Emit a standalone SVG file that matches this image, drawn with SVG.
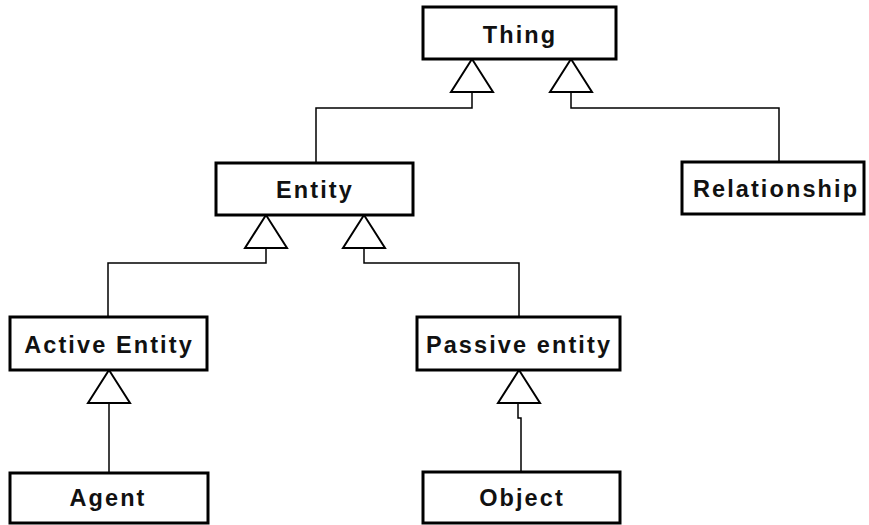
<svg xmlns="http://www.w3.org/2000/svg" xmlns:xlink="http://www.w3.org/1999/xlink" width="869" height="525" viewBox="0 0 869 525">
  <style>
    .box { fill: #ffffff; stroke: #000000; stroke-width: 3; }
    .lbl { font-family: "Liberation Sans", Arial, sans-serif; font-weight: bold; font-size: 23.5px; letter-spacing: 2.1px; text-anchor: middle; fill: #111111; }
    .conn { fill: none; stroke: #000000; stroke-width: 1.5; }
    .tri { fill: #ffffff; stroke: #000000; stroke-width: 2; stroke-linejoin: miter; }
  </style>
  <defs>
    <polygon id="tri" class="tri" points="0,0 -21,33 21,33"/>
  </defs>
  <rect width="869" height="525" fill="#ffffff"/>

  <g id="connectors">
    <path class="conn" d="M316,163 V108 H472 V92"/>
    <path class="conn" d="M779,162 V108 H571 V92"/>
    <path class="conn" d="M108,317 V263 H266 V248"/>
    <path class="conn" d="M519,317 V263 H364 V248"/>
    <path class="conn" d="M109,473 V402"/>
    <path class="conn" d="M521,472 V418 H518 V402"/>
    <use xlink:href="#tri" href="#tri" x="472" y="59"/>
    <use xlink:href="#tri" href="#tri" x="571" y="59"/>
    <use xlink:href="#tri" href="#tri" x="266" y="215"/>
    <use xlink:href="#tri" href="#tri" x="364" y="215"/>
    <use xlink:href="#tri" href="#tri" x="109" y="370"/>
    <use xlink:href="#tri" href="#tri" x="519" y="370"/>
  </g>

  <g id="thing">
    <rect class="box" x="423" y="7" width="193" height="52"/>
    <text class="lbl" x="520" y="43">Thing</text>
  </g>
  <g id="entity">
    <rect class="box" x="216" y="163" width="197" height="52"/>
    <text class="lbl" x="315" y="198">Entity</text>
  </g>
  <g id="relationship">
    <rect class="box" x="682" y="162" width="182" height="52"/>
    <text class="lbl" x="776" y="197">Relationship</text>
  </g>
  <g id="active-entity">
    <rect class="box" x="10" y="317" width="197" height="53"/>
    <text class="lbl" x="109" y="353">Active Entity</text>
  </g>
  <g id="passive-entity">
    <rect class="box" x="417" y="317" width="203" height="53"/>
    <text class="lbl" x="519" y="353">Passive entity</text>
  </g>
  <g id="agent">
    <rect class="box" x="10" y="473" width="198" height="50"/>
    <text class="lbl" x="108" y="506">Agent</text>
  </g>
  <g id="object">
    <rect class="box" x="423" y="472" width="197" height="51"/>
    <text class="lbl" x="522" y="506">Object</text>
  </g>
</svg>
